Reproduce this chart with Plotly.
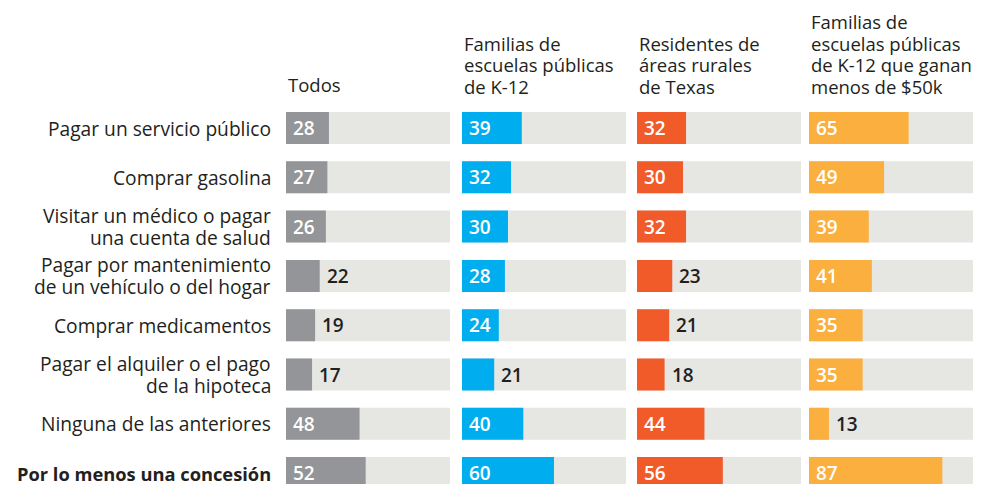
import plotly.graph_objects as go

categories = [
    "Pagar un servicio público",
    "Comprar gasolina",
    "Visitar un médico o pagar<br>una cuenta de salud",
    "Pagar por mantenimiento<br>de un vehículo o del hogar",
    "Comprar medicamentos",
    "Pagar el alquiler o el pago<br>de la hipoteca",
    "Ninguna de las anteriores",
    "<b>Por lo menos una concesión</b>",
]
headers = [
    "Todos",
    "Familias de<br>escuelas públicas<br>de K-12",
    "Residentes de<br>áreas rurales<br>de Texas",
    "Familias de<br>escuelas públicas<br>de K-12 que ganan<br>menos de $50k",
]
todos = [28, 27, 26, 22, 19, 17, 48, 52]
k12 = [39, 32, 30, 28, 24, 21, 40, 60]
rural = [32, 30, 32, 23, 21, 18, 44, 56]
k12_low = [65, 49, 39, 41, 35, 35, 13, 87]
series = [todos, k12, rural, k12_low]
colors = ["#939598", "#00AEEF", "#F15A29", "#FBAF3F"]

BG_MAX = 107
W, H = 983, 484
panel_px = [(286, 450), (462, 626), (637, 801), (809, 973)]
row0_px, row_step = 128, 49.3
font = "Open Sans"
ink = "#231F20"

fig = go.Figure()
annotations = []
for i, (vals, col) in enumerate(zip(series, colors)):
    xa = "x" if i == 0 else f"x{i+1}"
    fig.add_trace(go.Bar(x=[BG_MAX] * len(categories), y=categories, orientation="h",
                         marker=dict(color="#E6E6E3", line=dict(width=0)), width=0.65,
                         xaxis=xa, yaxis="y", hoverinfo="skip", showlegend=False))
    fig.add_trace(go.Bar(x=vals, y=categories, orientation="h",
                         marker=dict(color=col, line=dict(width=0)), width=0.65,
                         xaxis=xa, yaxis="y", showlegend=False))
    for c, v in zip(categories, vals):
        inside = v >= 24
        annotations.append(dict(
            x=0 if inside else v, y=c, xref=xa, yref="y", xanchor="left", yanchor="middle",
            xshift=5, showarrow=False, text=str(v),
            font=dict(family=font, size=19, color="white" if inside else ink, weight=600)))
    lines = headers[i].split("<br>")
    last_center = 86.5 if len(lines) > 1 else 84.5
    for k, ln in enumerate(lines):
        yc = last_center - (len(lines) - 1 - k) * 21.5
        annotations.append(dict(
            x=panel_px[i][0] / W, y=1 - yc / H, xref="paper", yref="paper",
            xanchor="left", yanchor="middle", align="left", showarrow=False,
            text=ln, font=dict(family=font, size=18.5, color=ink)))

for c in categories:
    lines = c.split("<br>")
    n = len(lines)
    bold = c.startswith("<b>")
    for k, ln in enumerate(lines):
        annotations.append(dict(
            x=273 / W, y=c, xref="paper", yref="y", xanchor="right", yanchor="middle",
            yshift=((n - 1) / 2 - k) * 22, align="right", showarrow=False, text=ln,
            font=dict(family=font, size=18.3 if bold else 19.2, color=ink)))

top_val = -(row0_px / row_step)
bot_val = (H - row0_px) / row_step
layout = dict(
    width=W, height=H, margin=dict(l=0, r=0, t=0, b=0),
    paper_bgcolor="white", plot_bgcolor="white", barmode="overlay",
    annotations=annotations,
    yaxis=dict(type="category", categoryorder="array", categoryarray=categories,
               range=[bot_val, top_val], domain=[0, 1], visible=False, fixedrange=True),
)
for i, (a, b) in enumerate(panel_px):
    key = "xaxis" if i == 0 else f"xaxis{i+1}"
    layout[key] = dict(domain=[a / W, b / W], range=[0, BG_MAX], visible=False,
                       fixedrange=True, anchor="y")
fig.update_layout(**layout)
fig.write_html("out.html", config={"displayModeBar": False},
               post_script="document.body.style.margin='0';document.body.style.overflow='hidden';")
